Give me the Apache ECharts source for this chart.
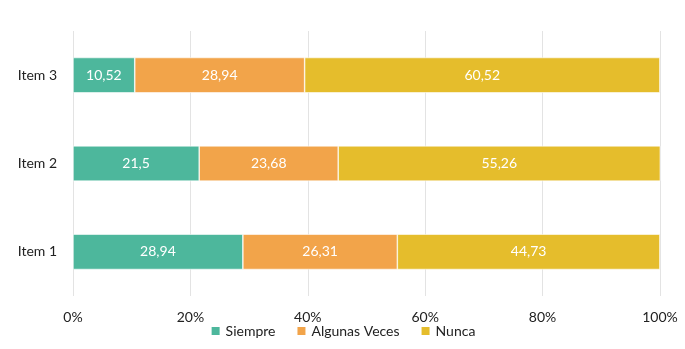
<!DOCTYPE html>
<html>
<head>
<meta charset="utf-8">
<script src="https://cdn.jsdelivr.net/npm/echarts@6/dist/echarts.min.js"></script>
<style>
  html, body { margin: 0; padding: 0; background: #fff; }
  #chart { width: 685px; height: 349px; }
</style>
</head>
<body>
<div id="chart"></div>
<script>
// Categories (bottom to top) and the share of each answer per item
const items = ['Item 1', 'Item 2', 'Item 3'];
const siempre = [28.94, 21.5, 10.52];
const algunasVeces = [26.31, 23.68, 28.94];
const nunca = [44.73, 55.26, 60.52];
const seriesNames = ['Siempre', 'Algunas Veces', 'Nunca'];
const xTicks = [0, 20, 40, 60, 80, 100];

const colors = ['#4DB79C', '#F2A44A', '#E5BD2C'];
const font = 'Lato, "Open Sans", sans-serif';

const chart = echarts.init(document.getElementById('chart'), null, { renderer: 'canvas' });

function fmt(v) { return String(v).replace('.', ','); }

function barSeries(name, data, color) {
  return {
    name: name,
    type: 'bar',
    stack: 'total',
    data: data,
    barWidth: '40%',
    itemStyle: { color: color, borderColor: '#fff', borderWidth: 0.6 },
    label: {
      show: true,
      position: 'inside',
      color: '#fff',
      fontFamily: font,
      fontSize: 14,
      formatter: p => fmt(p.value)
    }
  };
}

chart.setOption({
  animation: false,
  color: colors,
  grid: { left: 73, right: 25, top: 31, bottom: 53, containLabel: false },
  legend: {
    bottom: 6,
    left: 'center',
    itemWidth: 10,
    itemHeight: 10,
    itemGap: 20,
    icon: 'rect',
    textStyle: { fontFamily: font, fontSize: 14, color: '#222' },
    data: seriesNames
  },
  xAxis: {
    type: 'value',
    min: 0,
    max: 100,
    interval: 20,
    axisLine: { show: false },
    axisTick: { show: false },
    splitLine: { lineStyle: { color: '#e3e3e3', width: 1 } },
    axisLabel: {
      fontFamily: font,
      fontSize: 14,
      color: '#222',
      margin: 14,
      formatter: v => (xTicks.includes(v) ? v + '%' : '')
    }
  },
  yAxis: {
    type: 'category',
    data: items,
    axisLine: { show: false },
    axisTick: { show: false },
    axisLabel: { fontFamily: font, fontSize: 14, color: '#222', margin: 16 }
  },
  series: [
    barSeries(seriesNames[0], siempre, colors[0]),
    barSeries(seriesNames[1], algunasVeces, colors[1]),
    barSeries(seriesNames[2], nunca, colors[2])
  ]
});
</script>
</body>
</html>
